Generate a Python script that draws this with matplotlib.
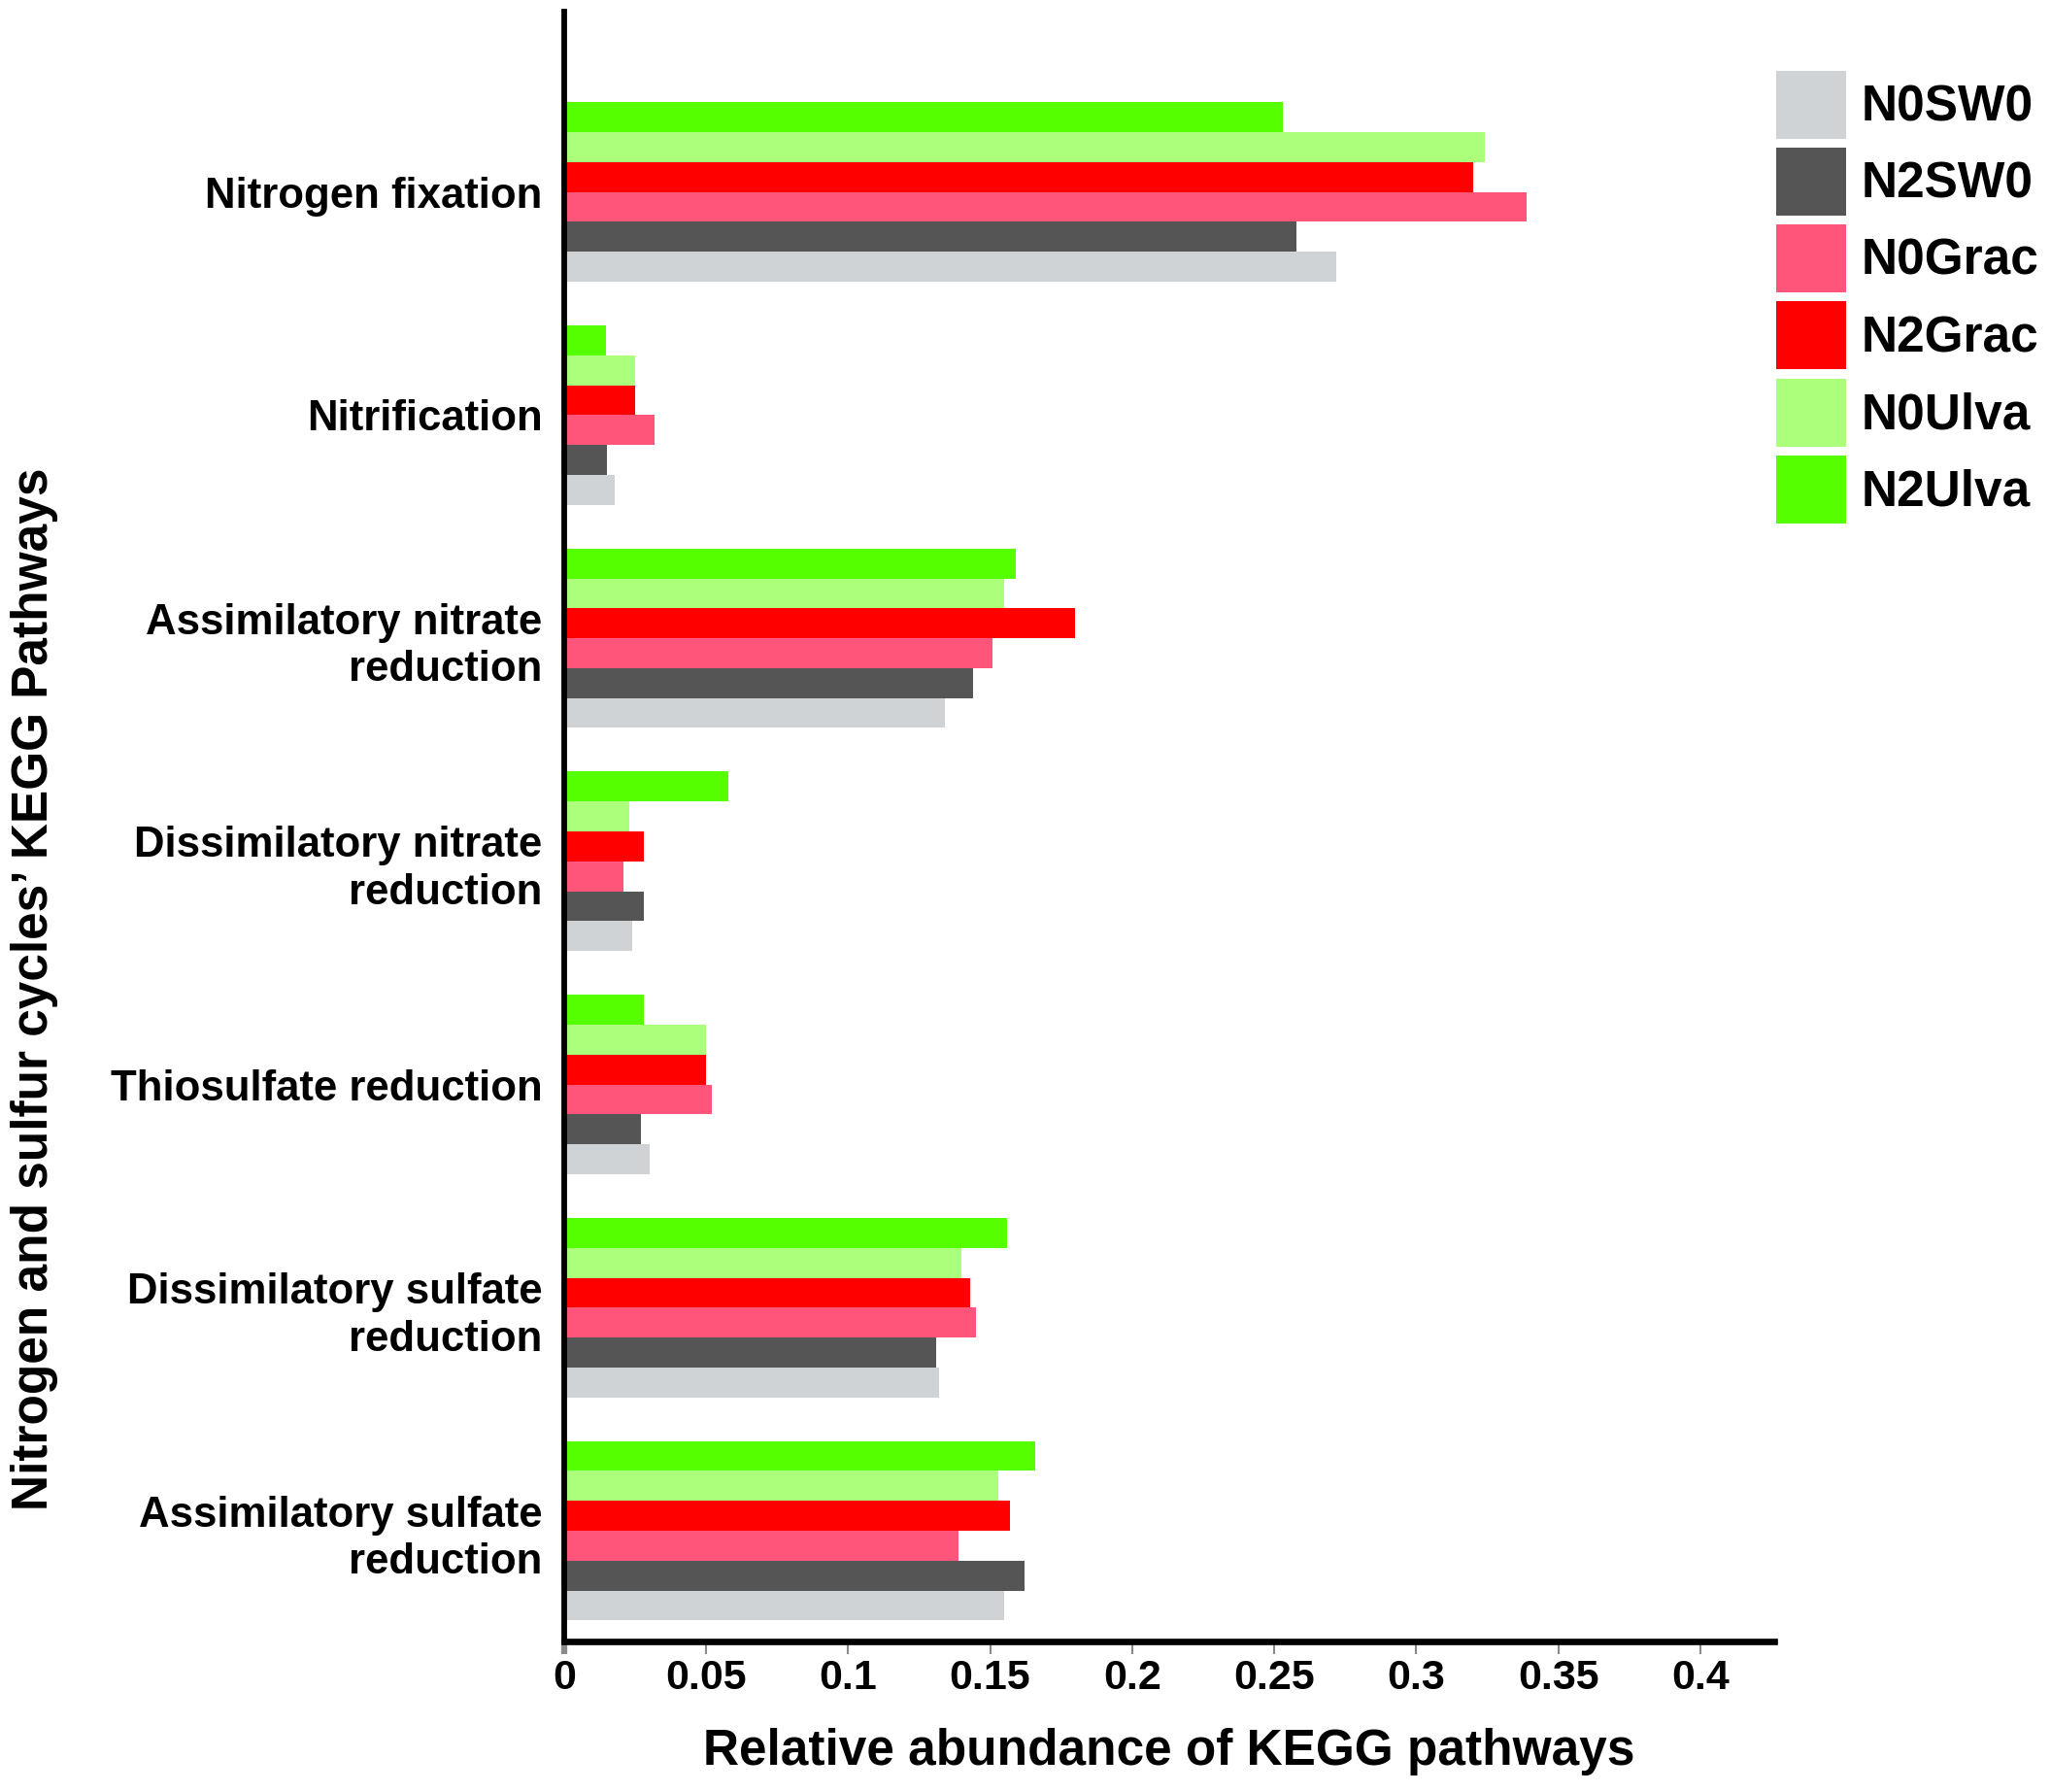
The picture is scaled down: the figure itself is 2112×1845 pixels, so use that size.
import numpy as np
import matplotlib
matplotlib.use('Agg')
import matplotlib.pyplot as plt

plt.rcParams['font.family'] = ['Liberation Sans', 'DejaVu Sans']
plt.rcParams['font.weight'] = 'bold'

# pathways, top to bottom
pathways = ['Nitrogen fixation', 'Nitrification',
            'Assimilatory nitrate\nreduction', 'Dissimilatory nitrate\nreduction',
            'Thiosulfate reduction', 'Dissimilatory sulfate\nreduction',
            'Assimilatory sulfate\nreduction']

# series (legend order)
series = ['N0SW0', 'N2SW0', 'N0Grac', 'N2Grac', 'N0Ulva', 'N2Ulva']
colors = ['#D0D3D6', '#545554', '#FF557A', '#FF0000', '#ABFF7A', '#55FF00']

N0SW0 = [0.272, 0.018, 0.134, 0.024, 0.030, 0.132, 0.155]
N2SW0 = [0.258, 0.015, 0.144, 0.028, 0.027, 0.131, 0.162]
N0Grac = [0.339, 0.032, 0.151, 0.021, 0.052, 0.145, 0.139]
N2Grac = [0.320, 0.025, 0.180, 0.028, 0.050, 0.143, 0.157]
N0Ulva = [0.324, 0.025, 0.155, 0.023, 0.050, 0.140, 0.153]
N2Ulva = [0.253, 0.0146, 0.159, 0.058, 0.028, 0.156, 0.166]
values = [N0SW0, N2SW0, N0Grac, N2Grac, N0Ulva, N2Ulva]

xticks = [0, 0.05, 0.1, 0.15, 0.2, 0.25, 0.3, 0.35, 0.4]
xticklabels = ['0', '0.05', '0.1', '0.15', '0.2', '0.25', '0.3', '0.35', '0.4']

fig = plt.figure(figsize=(21.12, 18.45), dpi=100)
ax = fig.add_axes([0.275, 0.084, 0.59, 0.9095])

h = 0.134
y = np.arange(len(pathways))
for i in range(len(series)):
    ax.barh(y + (2.5 - i) * h, values[i], height=h, color=colors[i],
            label=series[i], linewidth=0)

ax.set_ylim(6.496, -0.808)
ax.set_xlim(0, 0.426)

ax.set_yticks(y)
ax.set_yticklabels(pathways, fontsize=31.5, fontweight='bold', linespacing=1.24)
ax.tick_params(axis='y', length=0, pad=16)

ax.set_xticks(xticks)
ax.set_xticklabels(xticklabels, fontsize=31, fontweight='bold')
ax.tick_params(axis='x', length=9, width=1.5, color='#8a8a8a', pad=4)
t0 = ax.xaxis.get_major_ticks()[0]
t0.tick1line.set_color('black')
t0.tick1line.set_markeredgewidth(4.5)

for s in ['top', 'right']:
    ax.spines[s].set_visible(False)
ax.spines['left'].set_linewidth(4.2)
ax.spines['bottom'].set_linewidth(4.8)

ax.set_xlabel('Relative abundance of KEGG pathways', fontsize=37,
              fontweight='bold', labelpad=22)
fig.text(0.017, 0.448, "Nitrogen and sulfur cycles\u2019 KEGG Pathways",
         rotation=90, fontsize=37, fontweight='bold', ha='center', va='center')

fig.legend(loc='upper left', bbox_to_anchor=(0.866, 0.9607), frameon=False,
           handlelength=1.4, handleheight=1.72, labelspacing=0.18,
           handletextpad=0.3, borderpad=0, borderaxespad=0,
           prop={'weight': 'bold', 'size': 37})

fig.savefig('out.png', dpi=100)
